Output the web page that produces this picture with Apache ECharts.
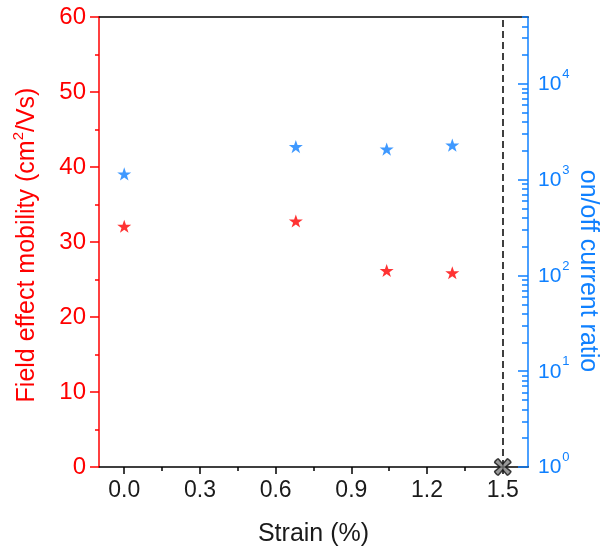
<!DOCTYPE html>
<html>
<head>
<meta charset="utf-8">
<script src="https://cdn.jsdelivr.net/npm/echarts@6/dist/echarts.min.js"></script>
<style>
html,body{margin:0;padding:0;background:#fff;}
#chart{width:600px;height:552px;}
</style>
</head>
<body>
<div id="chart"></div>
<script>
// ---- data ----
const strain = [0, 0.68, 1.04, 1.30];
const mobility = [32.1, 32.8, 26.2, 25.9];
const onOffRatio = [1150, 2220, 2090, 2300];
const failedStrain = [1.5];
const failedMobility = [0];
const xTickValues = [0, 0.3, 0.6, 0.9, 1.2, 1.5];
const xMinorTickValues = [0.15, 0.45, 0.75, 1.05, 1.35];
const yMinorTickValues = [5, 15, 25, 35, 45, 55];
const logTickValues = [1, 10, 100, 1000, 10000];
const logMinorMultipliers = [2, 3, 4, 5, 6, 7, 8, 9];

const RED = '#ff0000';
const BLUE = '#0f80ff';
const FONT = '"Liberation Sans", Arial, sans-serif';
const X_MIN = -0.1, X_MAX = 1.6, R_MAX = 50000;

const logMinorTickValues = [];
logTickValues.forEach(function (p) {
  logMinorMultipliers.forEach(function (m) {
    if (p * m <= R_MAX) logMinorTickValues.push(p * m);
  });
});

const STAR = 'path://M50,0 L61.8,35.1 L98.1,35.1 L68.8,56.8 L79.4,91 L50,70 L20.6,91 L31.2,56.8 L1.9,35.1 L38.2,35.1 Z';
const CROSS = 'path://M35,0 C35,-6 65,-6 65,0 L62,38 L100,35 C106,35 106,65 100,65 L62,62 L65,100 C65,106 35,106 35,100 L38,62 L0,65 C-6,65 -6,35 0,35 L38,38 Z';

const chart = echarts.init(document.getElementById('chart'), null, {renderer: 'canvas'});

const option = {
  animation: false,
  backgroundColor: '#ffffff',
  grid: {left: 99, right: 72, top: 17, bottom: 85, containLabel: false},
  textStyle: {fontFamily: FONT},
  xAxis: [
    {
      type: 'value', min: X_MIN, max: X_MAX, position: 'bottom',
      axisLine: {show: true, onZero: false, lineStyle: {color: '#000', width: 1.5}},
      axisTick: {show: true, customValues: xTickValues, length: 7, lineStyle: {color: '#000', width: 1.5}},
      axisLabel: {show: true, customValues: xTickValues, formatter: function (v) { return v.toFixed(1); },
        fontSize: 23, color: '#1a1a1a', margin: 12, fontFamily: FONT},
      splitLine: {show: false},
      name: 'Strain (%)', nameLocation: 'middle', nameGap: 55,
      nameTextStyle: {fontSize: 25, color: '#1a1a1a', fontFamily: FONT}
    },
    {
      type: 'value', min: X_MIN, max: X_MAX, position: 'bottom',
      axisLine: {show: false, onZero: false},
      axisTick: {show: true, customValues: xMinorTickValues, length: 4, lineStyle: {color: '#000', width: 1.5}},
      axisLabel: {show: false},
      splitLine: {show: false}
    },
    {
      type: 'value', min: X_MIN, max: X_MAX, position: 'top',
      axisLine: {show: true, onZero: false, lineStyle: {color: '#000', width: 1.5}},
      axisTick: {show: false}, axisLabel: {show: false}, splitLine: {show: false}
    }
  ],
  yAxis: [
    {
      type: 'value', min: 0, max: 60, interval: 10, position: 'left',
      axisLine: {show: true, onZero: false, lineStyle: {color: RED, width: 1.5}},
      axisTick: {show: true, length: 9, lineStyle: {color: RED, width: 1.5}},
      axisLabel: {fontSize: 24, color: RED, margin: 13, fontFamily: FONT},
      splitLine: {show: false}
    },
    {
      type: 'log', logBase: 10, min: 1, max: R_MAX, position: 'right',
      axisLine: {show: true, onZero: false, lineStyle: {color: BLUE, width: 1.5}},
      axisTick: {show: true, inside: true, customValues: logTickValues, length: 10, lineStyle: {color: BLUE, width: 1.5}},
      axisLabel: {
        show: true, customValues: logTickValues, margin: 10,
        formatter: function (v) { return '{b|10}{s|' + Math.round(Math.log10(v)) + '}'; },
        rich: {
          b: {fontSize: 21, color: BLUE, fontFamily: FONT, lineHeight: 22, verticalAlign: 'bottom'},
          s: {fontSize: 13, color: BLUE, fontFamily: FONT, lineHeight: 13, padding: [0, 0, 14, 1], verticalAlign: 'bottom'}
        }
      },
      splitLine: {show: false}
    },
    {
      type: 'log', logBase: 10, min: 1, max: R_MAX, position: 'right',
      axisLine: {show: false, onZero: false},
      axisTick: {show: true, inside: true, customValues: logMinorTickValues, length: 6, lineStyle: {color: BLUE, width: 1.5}},
      axisLabel: {show: false},
      splitLine: {show: false}
    },
    {
      type: 'value', min: 0, max: 60, position: 'left',
      axisLine: {show: false, onZero: false},
      axisTick: {show: true, customValues: yMinorTickValues, length: 4, lineStyle: {color: RED, width: 1.5}},
      axisLabel: {show: false},
      splitLine: {show: false}
    }
  ],
  graphic: [
    {
      type: 'text', x: 27, y: 245, rotation: Math.PI / 2,
      style: {
        text: '{b|Field effect mobility (cm}{s|2}{b|/Vs)}',
        align: 'center', verticalAlign: 'middle',
        rich: {
          b: {fontSize: 25, fill: RED, fontFamily: FONT, lineHeight: 26, verticalAlign: 'bottom'},
          s: {fontSize: 15, fill: RED, fontFamily: FONT, lineHeight: 15, padding: [0, 0, 14, 0], verticalAlign: 'bottom'}
        }
      }
    },
    {
      type: 'text', x: 588, y: 271, rotation: -Math.PI / 2,
      style: {
        text: 'on/off current ratio', fill: BLUE, font: '25px ' + FONT,
        align: 'center', verticalAlign: 'middle'
      }
    }
  ],
  series: [
    {
      name: 'guide', type: 'scatter', xAxisIndex: 0, yAxisIndex: 0, data: [], z: 1,
      markLine: {
        silent: true, symbol: ['none', 'none'], label: {show: false},
        lineStyle: {color: '#000', width: 1.5, type: [7, 4]},
        data: [{xAxis: failedStrain[0]}]
      }
    },
    {
      name: 'mobility', type: 'scatter', xAxisIndex: 0, yAxisIndex: 0, clip: false, z: 3,
      symbol: STAR, symbolSize: 14, symbolKeepAspect: true,
      itemStyle: {color: RED},
      data: strain.map(function (s, i) { return [s, mobility[i]]; })
    },
    {
      name: 'onoff', type: 'scatter', xAxisIndex: 0, yAxisIndex: 1, clip: false, z: 3,
      symbol: STAR, symbolSize: 14, symbolKeepAspect: true,
      itemStyle: {color: BLUE},
      data: strain.map(function (s, i) { return [s, onOffRatio[i]]; })
    },
    {
      name: 'failed', type: 'scatter', xAxisIndex: 0, yAxisIndex: 0, clip: false, z: 5,
      symbol: CROSS, symbolSize: 19, symbolRotate: 45, symbolKeepAspect: true,
      itemStyle: {color: '#808080', borderColor: '#111', borderWidth: 1.5},
      data: failedStrain.map(function (s, i) { return [s, failedMobility[i]]; })
    }
  ]
};
chart.setOption(option);
</script>
</body>
</html>
